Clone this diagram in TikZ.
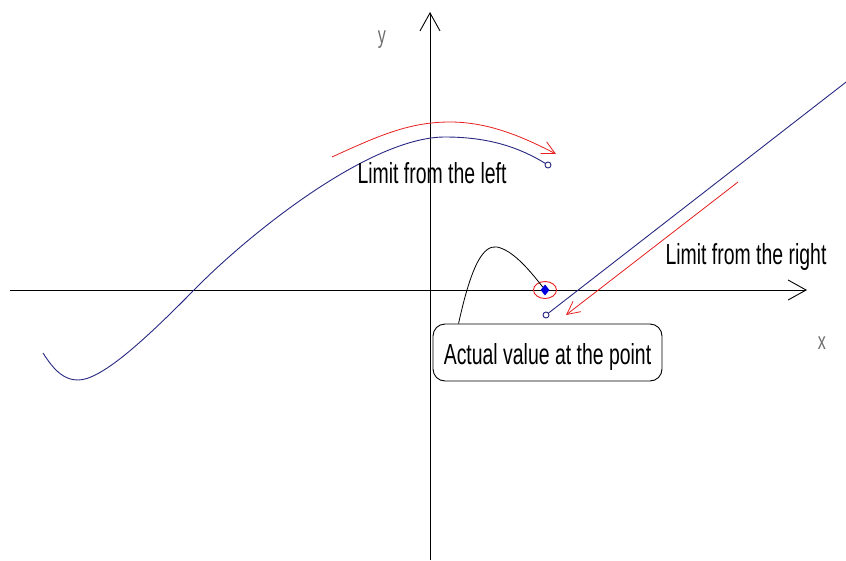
\documentclass[tikz,border=0pt]{standalone}
\usepackage{fontspec}
\setmainfont{Liberation Sans}
\usepackage{graphicx}
\usepackage{tikz}
\usetikzlibrary{arrows.meta, shapes.geometric, positioning}
\definecolor{mynavy}{RGB}{40,40,130}
\definecolor{myred}{RGB}{230,30,30}
\definecolor{myblue}{RGB}{0,0,220}
\definecolor{mygray}{RGB}{110,110,110}
\newcommand{\narrowtxt}[1]{\scalebox{0.67}[1]{#1}}
\tikzset{
  axis/.style={line width=0.9pt, color=black,
    -{Straight Barb[length=18pt,width=20pt,line width=0.9pt]}},
  fn/.style={line width=0.9pt, color=mynavy},
  redarrow/.style={line width=0.8pt, color=myred,
    -{Straight Barb[length=13pt,width=13pt,line width=0.8pt]}},
  line/.style={line width=0.8pt, color=black},
  lbl/.style={font=\fontsize{29}{32}\selectfont, inner sep=0pt, anchor=base},
  axlbl/.style={font=\fontsize{24}{26}\selectfont, text=mygray, inner sep=0pt},
  hollow/.style={circle, draw=mynavy, fill=white, line width=0.9pt,
    minimum size=6pt, inner sep=0pt},
  dot/.style={diamond, fill=myblue, minimum width=9pt, minimum height=11pt,
    inner sep=0pt},
  ring/.style={ellipse, draw=myred, line width=0.9pt,
    minimum width=23pt, minimum height=17pt, inner sep=0pt},
  valbox/.style={rectangle, draw=black, line width=0.9pt, rounded corners=12pt,
    minimum width=229pt, minimum height=57pt, text height=24pt, text depth=0pt,
    font=\fontsize{29}{32}\selectfont, inner sep=0pt}
}
\begin{document}
\begin{tikzpicture}[x=1pt, y=-1pt]
  \useasboundingbox (0,0) rectangle (846,560);

  % Axes
  \coordinate (xs) at (10,290);
  \coordinate (xe) at (807,290);
  \coordinate (ys) at (430,560);
  \coordinate (ye) at (430,12);
  \draw[axis] (xs) -- (xe);
  \draw[axis] (ys) -- (ye);
  \node[axlbl] (ylbl) at (382,40) {\narrowtxt{y}};
  \node[axlbl] (xlbl) at (822,343) {\narrowtxt{x}};

  % Points
  \node[hollow] (hole) at (548,165) {};
  \node[ring] (ring) at (545,290) {};
  \node[dot] (val) at (545,290) {};
  \node[hollow] (jump) at (546,315) {};
  \coordinate (far) at (850,79);

  % Function
  \draw[fn] (43,353) .. controls (55,372) and (65,380) .. (78,380)
    .. controls (100,380) and (140,345) .. (195,289)
    .. controls (250,233) and (370,137) .. (445,137)
    .. controls (490,137) and (520,148) .. (hole);
  \draw[fn] (jump) -- (far);

  % Limits
  \draw[redarrow] (332,157) .. controls (380,135) and (410,122) .. (450,122)
    .. controls (490,122) and (525,138) .. (556,154);
  \coordinate (rs) at (738,182);
  \coordinate (re) at (566,315);
  \draw[redarrow] (rs) -- (re);

  % Labels
  \node[lbl] (left) at (432,183) {\narrowtxt{Limit from the left}};
  \node[lbl] (right) at (746,264) {\narrowtxt{Limit from the right}};
  \node[valbox] (box) at (547.5,352.5) {\narrowtxt{Actual value at the point}};
  \draw[line] ([xshift=26pt]box.north west) .. controls (472,262) and (484,245) .. (497,247)
    .. controls (512,250) and (528,268) .. (val);
\end{tikzpicture}
\end{document}
